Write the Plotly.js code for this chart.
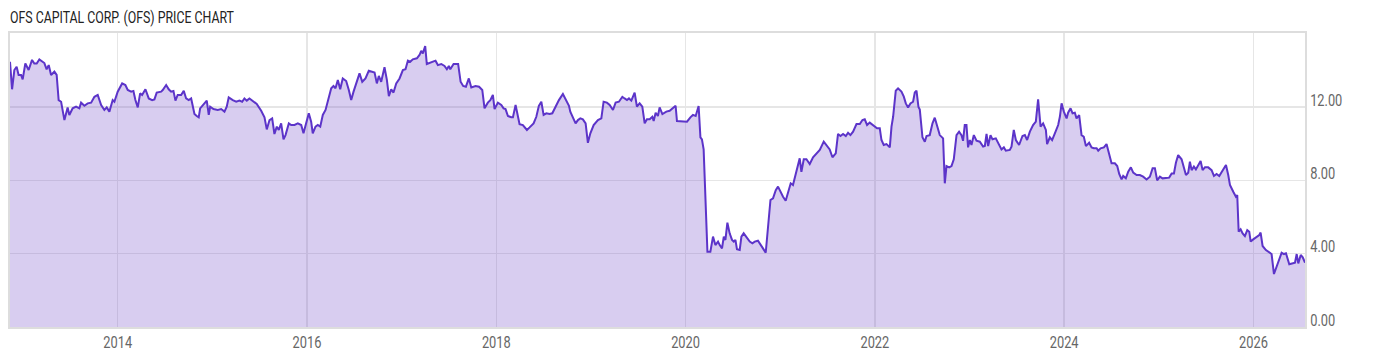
<!DOCTYPE html>
<html>
<head>
<meta charset="utf-8">
<script src="https://cdn.plot.ly/plotly-3.0.1.min.js"></script>
<style>
  html, body { margin: 0; padding: 0; background: #ffffff; }
  #chart { width: 1400px; height: 357px; }
</style>
</head>
<body>
<div id="chart"></div>
<script>
// Time as decimal year, values in USD
const years = [
  2012.862, 2012.884, 2012.908, 2012.932, 2012.953, 2012.979, 2012.996, 2013.024, 2013.059, 2013.095,
  2013.119, 2013.144, 2013.172, 2013.201, 2013.225, 2013.249, 2013.271, 2013.296, 2013.331, 2013.355,
  2013.376, 2013.402, 2013.437, 2013.471, 2013.489, 2013.524, 2013.560, 2013.595, 2013.613, 2013.648,
  2013.683, 2013.719, 2013.754, 2013.789, 2013.825, 2013.859, 2013.884, 2013.912, 2013.947, 2013.965,
  2014.000, 2014.047, 2014.081, 2014.106, 2014.142, 2014.166, 2014.187, 2014.212, 2014.237, 2014.258,
  2014.293, 2014.328, 2014.364, 2014.388, 2014.412, 2014.459, 2014.476, 2014.512, 2014.539, 2014.564,
  2014.589, 2014.610, 2014.634, 2014.670, 2014.698, 2014.723, 2014.750, 2014.776, 2014.793, 2014.811,
  2014.835, 2014.856, 2014.871, 2014.906, 2014.941, 2014.962, 2014.977, 2015.012, 2015.057, 2015.093,
  2015.128, 2015.152, 2015.173, 2015.216, 2015.252, 2015.286, 2015.315, 2015.339, 2015.364, 2015.392,
  2015.427, 2015.469, 2015.516, 2015.551, 2015.575, 2015.604, 2015.632, 2015.656, 2015.681, 2015.702,
  2015.727, 2015.752, 2015.773, 2015.808, 2015.833, 2015.868, 2015.903, 2015.939, 2015.963, 2015.992,
  2016.019, 2016.044, 2016.061, 2016.090, 2016.114, 2016.140, 2016.167, 2016.196, 2016.220, 2016.256,
  2016.280, 2016.301, 2016.326, 2016.351, 2016.378, 2016.414, 2016.442, 2016.467, 2016.492, 2016.526,
  2016.555, 2016.584, 2016.618, 2016.653, 2016.689, 2016.714, 2016.738, 2016.759, 2016.784, 2016.819,
  2016.844, 2016.865, 2016.890, 2016.914, 2016.943, 2016.978, 2017.013, 2017.041, 2017.066, 2017.091,
  2017.118, 2017.161, 2017.189, 2017.207, 2017.224, 2017.249, 2017.266, 2017.295, 2017.330, 2017.358,
  2017.383, 2017.419, 2017.453, 2017.478, 2017.499, 2017.514, 2017.549, 2017.597, 2017.623, 2017.650,
  2017.679, 2017.710, 2017.736, 2017.781, 2017.818, 2017.852, 2017.876, 2017.911, 2017.937, 2017.964,
  2017.982, 2018.017, 2018.053, 2018.077, 2018.098, 2018.123, 2018.159, 2018.176, 2018.204, 2018.246,
  2018.281, 2018.324, 2018.352, 2018.394, 2018.423, 2018.450, 2018.476, 2018.500, 2018.529, 2018.564,
  2018.592, 2018.627, 2018.662, 2018.704, 2018.733, 2018.768, 2018.782, 2018.810, 2018.838, 2018.863,
  2018.888, 2018.915, 2018.944, 2018.968, 2018.994, 2019.029, 2019.074, 2019.110, 2019.134, 2019.169,
  2019.198, 2019.233, 2019.261, 2019.296, 2019.332, 2019.356, 2019.381, 2019.402, 2019.427, 2019.462,
  2019.486, 2019.515, 2019.543, 2019.568, 2019.592, 2019.621, 2019.649, 2019.663, 2019.684, 2019.708,
  2019.726, 2019.755, 2019.797, 2019.832, 2019.867, 2019.895, 2019.909, 2019.945, 2019.980, 2020.015,
  2020.051, 2020.078, 2020.107, 2020.138, 2020.157, 2020.173, 2020.191, 2020.213, 2020.231, 2020.262,
  2020.290, 2020.315, 2020.343, 2020.361, 2020.385, 2020.404, 2020.421, 2020.442, 2020.466, 2020.491,
  2020.509, 2020.527, 2020.543, 2020.572, 2020.590, 2020.614, 2020.643, 2020.678, 2020.706, 2020.731,
  2020.765, 2020.791, 2020.818, 2020.847, 2020.871, 2020.897, 2020.924, 2020.953, 2020.977, 2021.002,
  2021.030, 2021.058, 2021.083, 2021.111, 2021.135, 2021.153, 2021.178, 2021.206, 2021.224, 2021.249,
  2021.277, 2021.312, 2021.347, 2021.383, 2021.418, 2021.460, 2021.489, 2021.523, 2021.552, 2021.587,
  2021.611, 2021.637, 2021.664, 2021.693, 2021.717, 2021.742, 2021.770, 2021.806, 2021.841, 2021.869,
  2021.893, 2021.918, 2021.946, 2021.981, 2022.023, 2022.052, 2022.070, 2022.094, 2022.123, 2022.158,
  2022.176, 2022.193, 2022.221, 2022.245, 2022.281, 2022.306, 2022.327, 2022.351, 2022.376, 2022.404,
  2022.422, 2022.440, 2022.461, 2022.475, 2022.503, 2022.528, 2022.546, 2022.580, 2022.609, 2022.633,
  2022.658, 2022.686, 2022.721, 2022.739, 2022.757, 2022.785, 2022.810, 2022.834, 2022.863, 2022.890,
  2022.915, 2022.932, 2022.950, 2022.968, 2022.985, 2023.004, 2023.021, 2023.046, 2023.074, 2023.109,
  2023.144, 2023.162, 2023.180, 2023.197, 2023.222, 2023.243, 2023.278, 2023.313, 2023.338, 2023.363,
  2023.384, 2023.426, 2023.444, 2023.468, 2023.490, 2023.524, 2023.560, 2023.585, 2023.609, 2023.638,
  2023.672, 2023.701, 2023.725, 2023.751, 2023.778, 2023.807, 2023.820, 2023.849, 2023.873, 2023.902,
  2023.937, 2023.955, 2023.973, 2023.997, 2024.026, 2024.042, 2024.068, 2024.089, 2024.113, 2024.131,
  2024.159, 2024.184, 2024.208, 2024.230, 2024.264, 2024.290, 2024.314, 2024.343, 2024.360, 2024.385,
  2024.420, 2024.448, 2024.476, 2024.501, 2024.536, 2024.561, 2024.582, 2024.607, 2024.624, 2024.652,
  2024.677, 2024.705, 2024.730, 2024.766, 2024.800, 2024.835, 2024.871, 2024.906, 2024.935, 2024.959,
  2024.983, 2025.012, 2025.040, 2025.075, 2025.110, 2025.136, 2025.160, 2025.181, 2025.205, 2025.241,
  2025.266, 2025.287, 2025.311, 2025.329, 2025.347, 2025.371, 2025.392, 2025.417, 2025.442, 2025.463,
  2025.488, 2025.522, 2025.558, 2025.583, 2025.611, 2025.639, 2025.664, 2025.688, 2025.710, 2025.734,
  2025.752, 2025.787, 2025.815, 2025.829, 2025.844, 2025.865, 2025.886, 2025.910, 2025.935, 2025.956,
  2025.971, 2025.998, 2026.034, 2026.062, 2026.076, 2026.097, 2026.132, 2026.168, 2026.192, 2026.217,
  2026.245, 2026.273, 2026.298, 2026.323, 2026.344, 2026.379, 2026.415, 2026.439, 2026.457, 2026.474,
  2026.500, 2026.521, 2026.545
];

const prices = [
  14.47, 12.97, 14.02, 14.20, 13.75, 13.75, 13.51, 14.38, 14.02, 14.57,
  14.38, 14.38, 14.60, 14.47, 14.40, 14.06, 14.29, 13.75, 13.93, 13.75,
  12.38, 12.29, 11.29, 11.98, 11.57, 11.93, 12.02, 11.93, 12.24, 12.07,
  12.20, 12.24, 12.56, 12.66, 12.11, 11.84, 11.98, 11.75, 12.38, 12.29,
  12.84, 13.29, 13.20, 12.93, 12.84, 12.88, 12.38, 11.98, 12.75, 12.66,
  12.97, 12.47, 12.38, 12.42, 12.79, 12.84, 12.93, 13.20, 12.97, 12.84,
  12.88, 12.35, 12.66, 12.66, 12.88, 12.47, 12.38, 12.47, 12.11, 11.62,
  11.51, 11.44, 11.93, 12.17, 12.35, 11.57, 12.02, 11.89, 11.84, 11.89,
  11.75, 12.02, 12.53, 12.38, 12.29, 12.35, 12.29, 12.47, 12.35, 12.47,
  12.35, 12.17, 11.80, 11.44, 10.78, 11.29, 11.38, 10.53, 10.93, 10.75,
  11.11, 10.24, 10.47, 11.11, 11.02, 11.02, 11.11, 11.02, 10.57, 11.20,
  11.66, 11.20, 10.57, 10.93, 11.02, 10.93, 11.57, 11.84, 12.38, 13.02,
  13.15, 13.02, 13.48, 12.97, 13.56, 13.42, 12.93, 12.38, 12.84, 13.38,
  13.84, 13.38, 13.56, 13.98, 13.93, 13.88, 13.29, 13.70, 13.38, 14.17,
  13.48, 12.60, 12.97, 12.79, 13.29, 13.56, 14.02, 14.06, 14.53, 14.47,
  14.60, 14.66, 14.84, 15.07, 14.93, 15.33, 14.35, 14.42, 14.47, 14.53,
  14.29, 14.35, 14.24, 14.06, 14.24, 14.06, 14.35, 14.35, 13.38, 13.15,
  13.11, 13.56, 13.07, 13.15, 13.11, 12.93, 11.93, 12.24, 12.38, 12.66,
  11.89, 12.24, 12.11, 11.93, 11.89, 11.51, 11.44, 11.44, 12.11, 11.07,
  11.02, 10.75, 10.89, 11.11, 11.47, 12.07, 12.29, 11.57, 11.66, 11.62,
  11.66, 12.02, 12.38, 12.71, 12.42, 12.07, 11.75, 11.47, 11.11, 11.29,
  11.38, 11.33, 11.11, 10.05, 10.57, 11.02, 11.29, 11.38, 12.29, 12.24,
  12.11, 11.84, 12.24, 12.29, 12.56, 12.47, 12.38, 12.47, 12.35, 12.79,
  12.02, 12.20, 12.02, 11.11, 11.33, 11.33, 11.47, 11.24, 11.69, 11.51,
  11.98, 11.62, 11.75, 11.80, 11.93, 12.07, 11.24, 11.24, 11.20, 11.20,
  11.44, 11.57, 11.51, 12.06, 10.35, 10.24, 9.69, 6.38, 4.11, 4.11,
  4.93, 4.47, 4.66, 4.47, 4.29, 4.93, 4.75, 5.69, 5.11, 4.75,
  4.66, 4.75, 4.24, 4.20, 4.93, 5.11, 4.93, 4.66, 4.57, 4.66,
  4.71, 4.47, 4.29, 4.05, 5.29, 6.93, 7.02, 7.47, 7.66, 7.38,
  7.11, 6.89, 7.29, 7.84, 7.75, 8.11, 8.75, 9.20, 8.47, 9.15,
  9.15, 8.89, 9.26, 9.47, 9.66, 10.11, 9.93, 9.69, 9.26, 9.47,
  10.53, 10.42, 10.53, 10.42, 10.60, 10.47, 10.66, 11.07, 11.07, 11.29,
  11.33, 11.02, 11.15, 11.02, 10.84, 10.84, 10.20, 9.93, 9.98, 9.80,
  10.93, 11.47, 12.89, 13.02, 12.84, 12.57, 12.20, 11.98, 12.20, 12.29,
  12.79, 12.89, 12.00, 11.86, 10.35, 10.11, 10.42, 10.47, 11.11, 11.42,
  10.93, 10.47, 10.29, 7.84, 8.78, 8.71, 8.78, 9.15, 10.47, 10.66,
  10.47, 10.16, 11.02, 11.02, 9.80, 10.20, 9.93, 10.47, 10.16, 10.11,
  9.84, 9.87, 10.53, 9.87, 10.47, 10.24, 10.29, 9.93, 9.69, 9.80,
  9.62, 9.66, 9.84, 10.75, 10.20, 9.93, 10.42, 10.47, 10.20, 10.66,
  11.02, 11.20, 12.42, 10.93, 11.11, 10.75, 9.98, 10.35, 10.20, 10.57,
  11.02, 11.47, 12.20, 11.75, 11.38, 11.69, 11.93, 11.66, 11.69, 11.38,
  11.56, 10.47, 10.38, 9.87, 10.05, 9.80, 9.75, 9.75, 9.62, 9.75,
  9.80, 9.98, 9.38, 8.93, 8.93, 8.78, 8.35, 8.05, 8.24, 8.11,
  8.47, 8.71, 8.42, 8.29, 8.29, 8.20, 8.05, 8.20, 8.66, 8.66,
  8.00, 8.20, 8.11, 8.15, 8.15, 8.38, 8.38, 8.96, 9.38, 9.15,
  8.75, 8.29, 8.42, 9.02, 8.56, 8.75, 8.60, 8.84, 9.06, 8.56,
  8.71, 8.71, 8.56, 8.24, 8.35, 8.24, 8.47, 8.71, 8.84, 8.29,
  7.75, 7.38, 7.11, 7.20, 5.20, 5.33, 5.11, 4.96, 5.29, 5.20,
  4.66, 4.78, 4.93, 5.02, 5.15, 4.42, 4.20, 4.05, 3.98, 2.89,
  3.29, 3.65, 4.05, 3.98, 4.02, 3.42, 3.47, 3.51, 3.98, 3.47,
  3.93, 3.80, 3.51
];

const yearTicks = [2014, 2016, 2018, 2020, 2022, 2024, 2026];
const priceTicks = [0, 4, 8, 12];
const chartTitle = 'OFS CAPITAL CORP. (OFS) PRICE CHART';

const fontFamily = 'Roboto, "Liberation Sans", sans-serif';

const trace = {
  x: years,
  y: prices,
  type: 'scatter',
  mode: 'lines',
  fill: 'tozeroy',
  fillcolor: 'rgba(110,70,200,0.27)',
  line: { color: '#5c34c9', width: 2 },
  hoverinfo: 'x+y'
};

const layout = {
  width: 1400,
  height: 357,
  margin: { l: 10, r: 95, t: 33, b: 30 },
  paper_bgcolor: '#ffffff',
  plot_bgcolor: '#ffffff',
  showlegend: false,
  title: {
    text: chartTitle,
    x: 0, xref: 'paper', xanchor: 'left',
    y: 1 - 17.5 / 357, yref: 'container', yanchor: 'middle',
    font: { family: fontFamily, size: 16, color: '#222222' }
  },
  xaxis: {
    type: 'linear',
    range: [years[0], years[years.length - 1]],
    tickvals: yearTicks,
    ticktext: yearTicks.map(String),
    showgrid: true,
    gridcolor: '#e6e6e6',
    gridwidth: 1.5,
    zeroline: false,
    showline: true,
    mirror: true,
    linecolor: '#dddddd',
    linewidth: 2,
    ticks: '',
    tickfont: { family: fontFamily, size: 16, color: '#666666' },
    fixedrange: true
  },
  yaxis: {
    side: 'right',
    range: [0, 16.04],
    tickvals: priceTicks,
    ticktext: priceTicks.map(v => v.toFixed(2)),
    showgrid: true,
    gridcolor: '#e6e6e6',
    gridwidth: 1.5,
    zeroline: false,
    showline: true,
    mirror: true,
    linecolor: '#dddddd',
    linewidth: 2,
    ticks: '',
    ticklabelstandoff: 0,
    ticklabelshift: -7,
    tickfont: { family: fontFamily, size: 16, color: '#666666' },
    fixedrange: true
  }
};

// The reference uses a condensed face; squeeze the real text horizontally.
function condense(gd) {
  const squeezeFor = (t) => (t.classList.contains('gtitle') ? 0.77 : 0.8);
  const sel = gd.querySelectorAll('.gtitle, .xtick text, .ytick text');
  sel.forEach(t => {
    const w = t.getComputedTextLength();
    if (w > 0) {
      t.setAttribute('textLength', (w * squeezeFor(t)).toFixed(1));
      t.setAttribute('lengthAdjust', 'spacingAndGlyphs');
    }
  });
}

Plotly.newPlot('chart', [trace], layout, { displayModeBar: false, staticPlot: true })
  .then(gd => condense(gd));
</script>
</body>
</html>
